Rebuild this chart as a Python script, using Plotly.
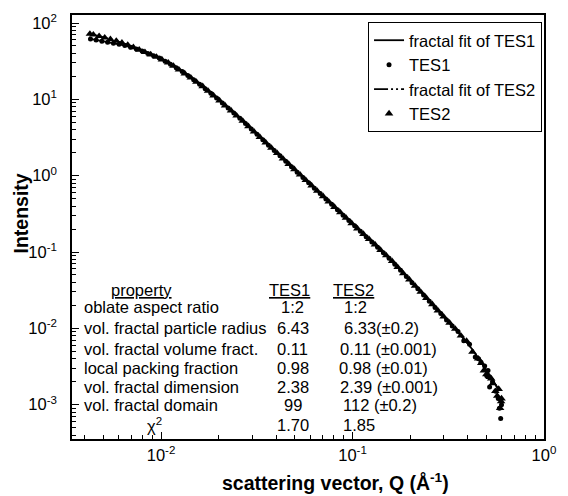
import plotly.graph_objects as go

# ---------------- data ----------------
q_tes1 = [0.00428, 0.00458, 0.00491, 0.00526, 0.00564, 0.00604, 0.00647, 0.00693,
          0.00743, 0.00796, 0.00853, 0.00914, 0.00979, 0.0105, 0.0112, 0.0120,
          0.0129, 0.0138, 0.0148, 0.0159, 0.0170, 0.0182, 0.0195, 0.0209,
          0.0224, 0.0240, 0.0258, 0.0276, 0.0296, 0.0317, 0.0340, 0.0364,
          0.0390, 0.0418, 0.0448, 0.0480, 0.0514, 0.0551, 0.0590, 0.0632,
          0.0678, 0.0726, 0.0778, 0.0834, 0.0893, 0.0957, 0.1026, 0.1099,
          0.1178, 0.1262, 0.1352, 0.1449, 0.1552, 0.1663, 0.1782, 0.1910,
          0.2046, 0.2193, 0.2350, 0.2518, 0.2698, 0.2891, 0.3097, 0.3319,
          0.3556, 0.3811, 0.4083, 0.4375, 0.4688, 0.5023, 0.5383, 0.5768,
          0.4550, 0.4900, 0.5100, 0.5200, 0.5600, 0.5850, 0.5940, 0.6000]
i_tes1 = [61.8, 59.8, 57.9, 56.1, 54.3, 52.6, 50.6, 48.0,
          45.6, 43.0, 40.0, 37.3, 34.8, 31.6, 28.8, 25.9,
          23.1, 20.5, 18.0, 15.8, 13.8, 12.0, 10.4, 8.95,
          7.69, 6.61, 5.65, 4.81, 4.08, 3.48, 2.95, 2.51,
          2.13, 1.82, 1.54, 1.31, 1.11, 0.948, 0.805, 0.685,
          0.582, 0.495, 0.421, 0.358, 0.304, 0.259, 0.220, 0.187,
          0.159, 0.135, 0.115, 0.0977, 0.0830, 0.0693, 0.0575, 0.0478,
          0.0396, 0.0329, 0.0273, 0.0226, 0.0188, 0.0156, 0.0129, 0.0107,
          0.0091, 0.0069, 0.0062, 0.0042, 0.0036, 0.0024, 0.0020, 0.0012,
          0.0040, 0.0032, 0.0028, 0.0017, 0.0015, 0.00090, 0.00066, 0.00100]

q_tes2 = [0.00425, 0.00443, 0.00475, 0.00508, 0.00544, 0.00584, 0.00625, 0.00670,
          0.00717, 0.00769, 0.00824, 0.00883, 0.00946, 0.0101, 0.0109, 0.0116,
          0.0124, 0.0133, 0.0143, 0.0153, 0.0165, 0.0176, 0.0188, 0.0202,
          0.0216, 0.0232, 0.0248, 0.0267, 0.0286, 0.0306, 0.0328, 0.0352,
          0.0377, 0.0404, 0.0433, 0.0464, 0.0497, 0.0532, 0.0570, 0.0611,
          0.0654, 0.0702, 0.0751, 0.0805, 0.0863, 0.0924, 0.0990, 0.106,
          0.114, 0.122, 0.131, 0.140, 0.150, 0.161, 0.172, 0.184,
          0.198, 0.212, 0.227, 0.243, 0.261, 0.279, 0.299, 0.321,
          0.344, 0.368, 0.394, 0.423, 0.453, 0.485, 0.520, 0.557,
          0.597, 0.470, 0.500, 0.530, 0.540, 0.570, 0.580, 0.590, 0.600]
i_tes2 = [71.9, 70.3, 67.3, 64.3, 61.2, 58.2, 55.1, 51.6,
          48.0, 44.5, 41.5, 38.6, 36.0, 33.2, 30.2, 27.4,
          24.5, 21.8, 19.2, 16.9, 14.8, 12.9, 11.2, 9.65,
          8.30, 7.13, 6.11, 5.21, 4.43, 3.77, 3.20, 2.72,
          2.31, 1.97, 1.67, 1.42, 1.21, 1.03, 0.874, 0.743,
          0.632, 0.537, 0.456, 0.388, 0.330, 0.281, 0.238, 0.203,
          0.172, 0.147, 0.125, 0.106, 0.0900, 0.0759, 0.0632, 0.0524,
          0.0435, 0.0361, 0.0300, 0.0249, 0.0206, 0.0171, 0.0142, 0.0118,
          0.0098, 0.0080, 0.0068, 0.0049, 0.0040, 0.0028, 0.0023, 0.0015,
          0.0011, 0.0035, 0.0025, 0.0022, 0.0019, 0.0013, 0.0016, 0.0009, 0.0012]

fit_q_tes1 = [0.00428, 0.00526, 0.00647, 0.00796, 0.00979, 0.0120, 0.0148, 0.0182,
              0.0224, 0.0276, 0.0340, 0.0448, 0.0590, 0.0778, 0.1026, 0.1352,
              0.1782, 0.2350, 0.3097, 0.4083, 0.5768]
fit_i_tes1 = [61.8, 56.1, 50.6, 43.0, 34.8, 25.9, 18.0, 12.0,
              7.69, 4.81, 2.95, 1.54, 0.805, 0.421, 0.220, 0.115,
              0.0575, 0.0273, 0.0129, 0.0059, 0.0016]
fit_q_tes2 = [0.00425, 0.00508, 0.00625, 0.00769, 0.00946, 0.0120, 0.0148, 0.0182,
              0.0224, 0.0276, 0.0340, 0.0448, 0.0590, 0.0778, 0.1026, 0.1352,
              0.1782, 0.2350, 0.3097, 0.4083, 0.5768]
fit_i_tes2 = [71.9, 64.3, 55.1, 44.5, 36.0, 25.9, 18.0, 12.0,
              7.69, 4.81, 2.95, 1.54, 0.805, 0.421, 0.220, 0.115,
              0.0575, 0.0273, 0.0129, 0.0059, 0.0016]

x_tickvals = [0.01, 0.1, 1]
x_ticktext = ["10<sup>-2</sup>", "10<sup>-1</sup>", "10<sup>0</sup>"]
y_tickvals = [1e-3, 1e-2, 1e-1, 1, 10, 100]
y_ticktext = ["10<sup>-3</sup>", "10<sup>-2</sup>", "10<sup>-1</sup>",
              "10<sup>0</sup>", "10<sup>1</sup>", "10<sup>2</sup>"]

table_props = ["oblate aspect ratio", "vol. fractal particle radius",
               "vol. fractal volume fract.", "local packing fraction",
               "vol. fractal dimension", "vol. fractal domain"]
table_tes1 = ["1:2", "6.43", "0.11", "0.98", "2.38", "99", "1.70"]
table_tes2 = ["1:2", "6.33(±0.2)", "0.11 (±0.001)", "0.98 (±0.01)",
              "2.39 (±0.001)", "112 (±0.2)", "1.85"]

# ---------------- figure ----------------
W, H = 568, 496
L, R, T, B = 72, 15, 14, 57
FONT = "Liberation Sans, Arial, Helvetica, sans-serif"
FS = 16.5


def px(x):
    return (x - L) / (W - L - R)


def py(y):
    return 1 - (y - T) / (H - T - B)


fig = go.Figure()
fig.add_trace(go.Scatter(x=fit_q_tes1, y=fit_i_tes1, mode="lines",
                         name="fractal fit of TES1",
                         line=dict(color="black", width=1.8, shape="spline")))
fig.add_trace(go.Scatter(x=q_tes1, y=i_tes1, mode="markers", name="TES1",
                         marker=dict(symbol="circle", size=5, color="black")))
fig.add_trace(go.Scatter(x=fit_q_tes2, y=fit_i_tes2, mode="lines",
                         name="fractal fit of TES2",
                         line=dict(color="black", width=1.8, shape="spline",
                                   dash="14px,3px,2px,3px,2px,3px")))
fig.add_trace(go.Scatter(x=q_tes2, y=i_tes2, mode="markers", name="TES2",
                         marker=dict(symbol="triangle-up", size=7.5, color="black")))

minor_vals = [m * 10 ** e for e in range(-4, 2) for m in range(2, 10)]

fig.update_layout(
    width=W, height=H,
    margin=dict(l=L, r=R, t=T, b=B),
    paper_bgcolor="white", plot_bgcolor="white",
    font=dict(family=FONT, size=FS, color="black"),
    showlegend=True,
    legend=dict(x=px(551), y=py(21), xanchor="right", yanchor="top",
                bordercolor="black", borderwidth=1, bgcolor="white",
                font=dict(size=16.5), tracegroupgap=0),
    xaxis=dict(type="log", range=[-2.465, 0], showgrid=False, zeroline=False,
               showline=True, linecolor="black", linewidth=1.5, mirror=True,
               ticks="inside", ticklen=7, tickwidth=1, tickcolor="black",
               tickmode="array", tickvals=x_tickvals, ticktext=x_ticktext,
               tickfont=dict(size=FS),
               minor=dict(ticks="inside", ticklen=4, tickcolor="black",
                          tickmode="array", tickvals=minor_vals, showgrid=False)),
    yaxis=dict(type="log", range=[-3.45, 2.105], showgrid=False, zeroline=False,
               showline=True, linecolor="black", linewidth=1.5, mirror=True,
               ticks="inside", ticklen=7, tickwidth=1, tickcolor="black",
               tickmode="array", tickvals=y_tickvals, ticktext=y_ticktext,
               tickfont=dict(size=FS), ticklabelstandoff=10,
               minor=dict(ticks="inside", ticklen=4, tickcolor="black",
                          tickmode="array", tickvals=minor_vals, showgrid=False)),
    xaxis2=dict(type="log", range=[-2.465, 0], overlaying="x", side="top",
                anchor="y", showgrid=False, zeroline=False, showline=False,
                ticks="inside", ticklen=7, tickcolor="black",
                tickmode="array", tickvals=x_tickvals, showticklabels=False),
    yaxis2=dict(type="log", range=[-3.45, 2.105], overlaying="y", side="right",
                anchor="x", showgrid=False, zeroline=False, showline=False,
                ticks="inside", ticklen=7, tickcolor="black",
                tickmode="array", tickvals=y_tickvals, showticklabels=False),
)

ann = []
# axis titles
ann.append(dict(text="<b>scattering vector, Q (Å<sup>-1</sup>)</b>", x=px(341), y=py(482),
                xref="paper", yref="paper", showarrow=False, xanchor="center",
                yanchor="middle", font=dict(size=19.5)))
ann.append(dict(text="<b>Intensity</b>", x=px(20), y=py(213), textangle=-90,
                xref="paper", yref="paper", showarrow=False, xanchor="center",
                yanchor="middle", font=dict(size=19.5)))

UL = "<span style='text-decoration:underline'>%s</span>"
# table header
ann.append(dict(text=UL % "property", x=px(110), y=py(290), xanchor="left"))
ann.append(dict(text=UL % "TES1", x=px(294), y=py(290), xanchor="center"))
ann.append(dict(text=UL % "TES2", x=px(359), y=py(290), xanchor="center"))
row_y = [307, 328, 349, 368, 387, 405, 425]
for t, yy in zip(table_props, row_y):
    ann.append(dict(text=t, x=px(82), y=py(yy), xanchor="left"))
ann.append(dict(text="χ<sup>2</sup>", x=px(156), y=py(row_y[-1]), xanchor="center"))
for t, yy in zip(table_tes1, row_y):
    ann.append(dict(text=t, x=px(297), y=py(yy), xanchor="center"))
tes2_left = [347, 347, 343, 342, 343, 346, 346]
for t, yy, xl in zip(table_tes2, row_y, tes2_left):
    ann.append(dict(text=t, x=px(xl), y=py(yy), xanchor="left"))

for a in ann[2:]:
    a.update(xref="paper", yref="paper", showarrow=False, yanchor="middle",
             font=dict(size=FS))
fig.update_layout(annotations=ann)

fig.write_html("out.html")
